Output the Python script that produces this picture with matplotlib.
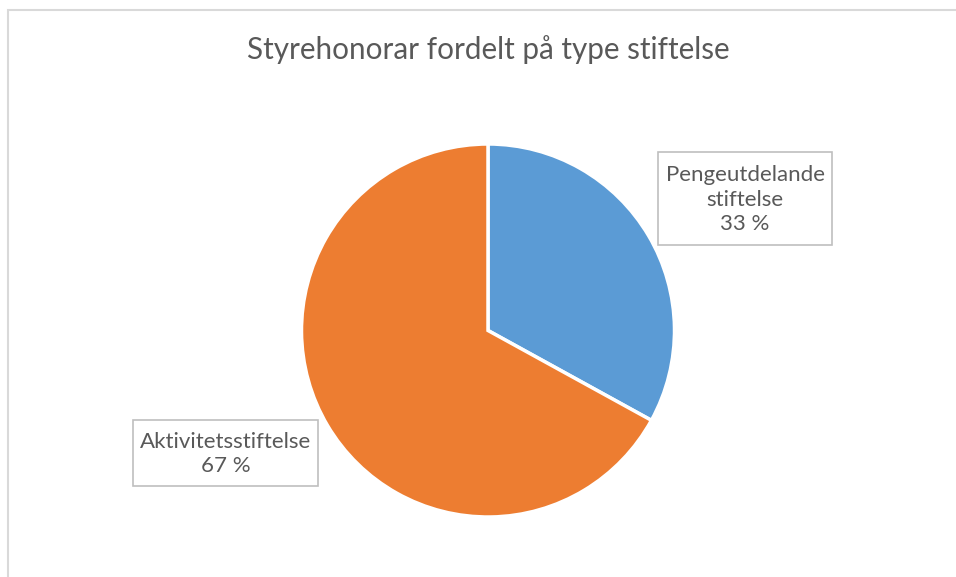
import matplotlib
matplotlib.use("Agg")
import matplotlib.pyplot as plt
from matplotlib.patches import Rectangle

categories = ["Pengeutdelande\nstiftelse", "Aktivitetsstiftelse"]
values = [33, 67]
colors = ["#5B9BD5", "#ED7D31"]
title = "Styrehonorar fordelt på type stiftelse"

W, H = 956, 577
fig = plt.figure(figsize=(W / 100, H / 100), dpi=100)
fig.patch.set_facecolor("white")
plt.rcParams['font.family'] = ['Lato', 'DejaVu Sans']

def fx(px):
    return px / W

def fy(py):
    return 1 - py / H

# outer chart border
fig.patches.append(Rectangle((fx(7.5), fy(H + 5)), fx(W + 10), (H + 5 - 9.5) / H,
                             transform=fig.transFigure, fill=False,
                             edgecolor="#d9d9d9", linewidth=1.5))

cx, cy, r = 488, 330.5, 186.5
ax = fig.add_axes([fx(cx - r), fy(cy + r), 2 * r / W, 2 * r / H])
ax.pie(values, colors=colors, startangle=90, counterclock=False,
       wedgeprops=dict(edgecolor="white", linewidth=2.5))
ax.set_xlim(-1, 1)
ax.set_ylim(-1, 1)
ax.set_aspect("auto")
ax.axis("off")

fig.text(fx(488), fy(50), title, ha="center", va="center",
         fontsize=21.3, color="#595959")

# label boxes (pixel layout)
boxes = [(658, 152, 832, 245), (133, 420, 318, 486)]
for cat, val, (x0, y0, x1, y1) in zip(categories, values, boxes):
    fig.patches.append(Rectangle((fx(x0), fy(y1)), (x1 - x0) / W, (y1 - y0) / H,
                                 transform=fig.transFigure, facecolor="white",
                                 edgecolor="#bfbfbf", linewidth=1.2))
    fig.text(fx((x0 + x1) / 2), fy((y0 + y1) / 2 + 1), f"{cat}\n{val} %",
             ha="center", va="center", fontsize=16, color="#595959",
             linespacing=1.3)

fig.savefig("out.png", dpi=100)
